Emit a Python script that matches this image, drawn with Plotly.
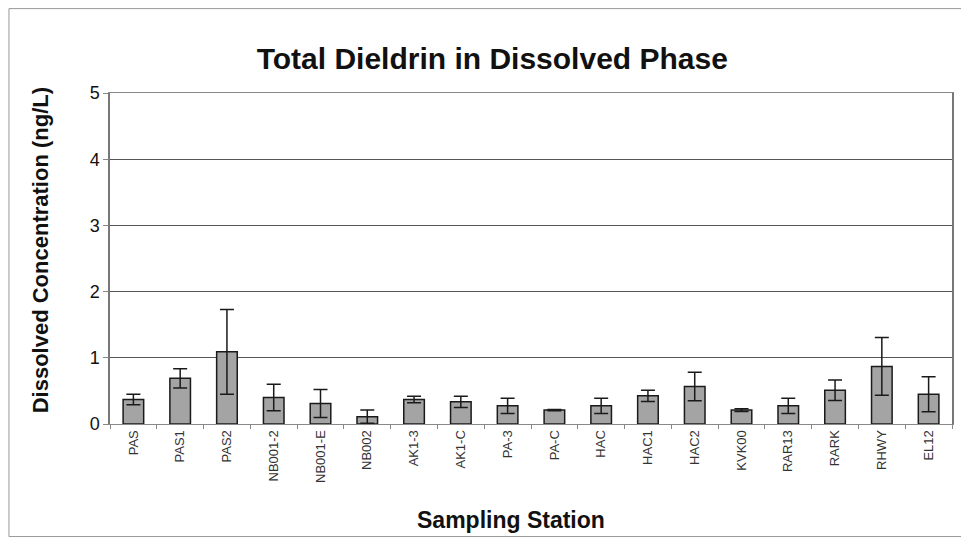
import plotly.graph_objects as go

stations = ["PAS", "PAS1", "PAS2", "NB001-2", "NB001-E", "NB002", "AK1-3", "AK1-C", "PA-3",
            "PA-C", "HAC", "HAC1", "HAC2", "KVK00", "RAR13", "RARK", "RHWY", "EL12"]
concentration = [0.37, 0.69, 1.09, 0.40, 0.31, 0.11, 0.37, 0.335, 0.275,
                 0.21, 0.275, 0.425, 0.565, 0.21, 0.275, 0.51, 0.87, 0.45]
error = [0.08, 0.145, 0.64, 0.20, 0.21, 0.10, 0.05, 0.085, 0.115,
         0.01, 0.115, 0.085, 0.215, 0.02, 0.115, 0.155, 0.435, 0.265]
y_ticks = [0, 1, 2, 3, 4, 5]

font = "Liberation Sans, Arial, sans-serif"

fig = go.Figure(
    go.Bar(
        x=stations,
        y=concentration,
        width=0.44,
        marker=dict(color="#a4a4a4", line=dict(color="#1a1a1a", width=1.5)),
        error_y=dict(type="data", array=error, visible=True, color="#1a1a1a",
                     thickness=1.5, width=7),
    )
)

# page body adds an 8px margin, so the figure is 8px smaller on each side
fig.update_layout(
    width=961,
    height=531,
    margin=dict(l=102, r=17, t=85, b=115),
    paper_bgcolor="white",
    plot_bgcolor="white",
    showlegend=False,
    font=dict(family=font, color="#111111"),
    title=dict(text="<b>Total Dieldrin in Dissolved Phase</b>", xref="paper", x=0.454,
               xanchor="center", y=0.905, yanchor="middle", font=dict(size=30)),
    annotations=[
        dict(text="<b>Dissolved Concentration (ng/L)</b>", xref="paper", yref="paper",
             x=-0.083, y=0.525, xanchor="center", yanchor="middle",
             textangle=-90, showarrow=False, font=dict(size=22)),
        dict(text="<b>Sampling Station</b>", xref="paper", yref="paper",
             x=0.476, y=-0.29, xanchor="center", yanchor="middle",
             showarrow=False, font=dict(size=23)),
    ],
    shapes=[
        dict(type="rect", xref="paper", yref="paper", x0=-0.12, x1=1.0185, y0=-0.34, y1=1.255,
             line=dict(color="#999999", width=1)),
    ],
)

fig.update_xaxes(
    tickangle=-90,
    tickfont=dict(size=13, color="#333333"),
    showline=True, linecolor="#888888", mirror=True,
    ticks="outside", ticklen=4, tickcolor="#888888", tickson="boundaries",
)
fig.update_yaxes(
    range=[0, 5],
    tickvals=y_ticks,
    tickfont=dict(size=18),
    showgrid=True, gridcolor="#555555", gridwidth=1,
    showline=True, linecolor="#777777", linewidth=1.5, mirror=True,
    ticks="outside", ticklen=5, tickcolor="#888888",
    zeroline=False,
)

fig.write_html("out.html")
